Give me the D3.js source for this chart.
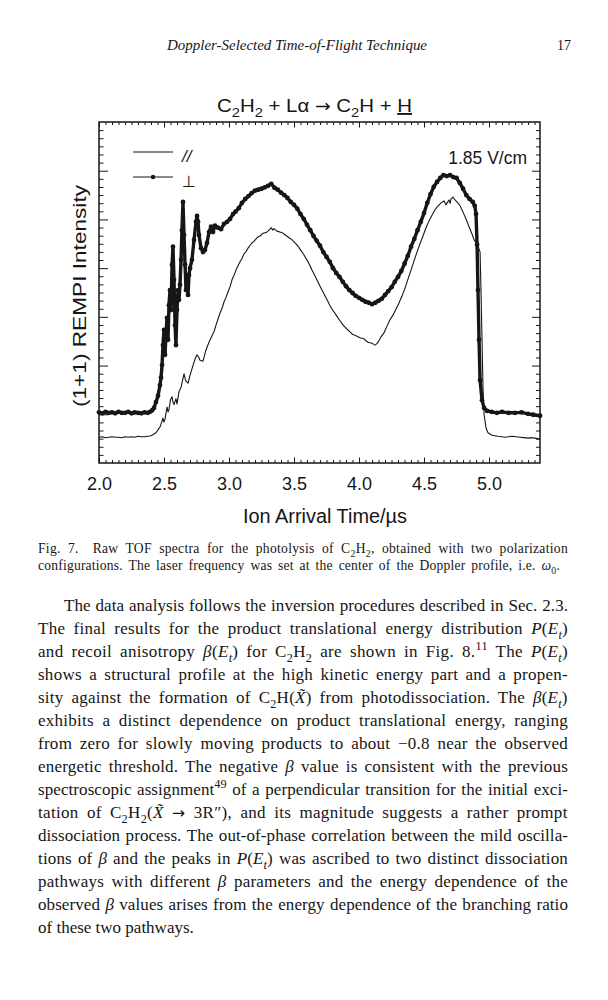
<!DOCTYPE html>
<html>
<head>
<meta charset="utf-8">
<script src="https://cdn.jsdelivr.net/npm/d3@7"></script>
<style>
  html, body { margin: 0; padding: 0; background: #fff; }
  svg { display: block; }
</style>
</head>
<body>
<svg id="page"></svg>
<script>
// ---- data (time in µs, intensity in arb. units) ----
const xMajorTicks = [2.0, 2.5, 3.0, 3.5, 4.0, 4.5, 5.0];
const xTickLabels = ["2.0", "2.5", "3.0", "3.5", "4.0", "4.5", "5.0"];
const seriesNames = ["//", "\u22A5"];
const fieldLabel = "1.85 V/cm";

// "//" polarization, thin trace
const parallel = [
  [2.000,0.53],[2.025,0.54],[2.050,0.52],[2.075,0.53],[2.100,0.54],[2.125,0.53],[2.150,0.53],[2.175,0.52],
  [2.200,0.54],[2.225,0.53],[2.250,0.54],[2.275,0.53],[2.300,0.55],[2.325,0.54],[2.350,0.54],[2.375,0.55],
  [2.400,0.56],[2.415,0.58],[2.438,0.62],[2.454,0.68],[2.469,0.74],[2.485,0.86],[2.492,0.92],[2.500,0.84],
  [2.508,0.90],[2.515,1.02],[2.523,1.15],[2.531,1.05],[2.538,1.09],[2.550,1.30],[2.562,1.36],[2.569,1.25],
  [2.577,1.20],[2.592,1.32],[2.600,1.21],[2.615,1.46],[2.631,1.55],[2.638,1.64],[2.654,1.83],[2.662,1.74],
  [2.669,1.68],[2.685,1.64],[2.700,1.80],[2.708,1.87],[2.731,2.07],[2.746,2.18],[2.754,2.22],[2.769,2.16],
  [2.777,2.11],[2.800,2.09],[2.823,2.32],[2.846,2.48],[2.869,2.61],[2.885,2.70],[2.900,2.83],[2.915,2.95],
  [2.931,3.08],[2.946,3.17],[2.962,3.31],[2.977,3.40],[2.992,3.51],[3.008,3.62],[3.023,3.76],[3.038,3.85],
  [3.054,3.96],[3.069,4.05],[3.085,4.13],[3.100,4.20],[3.115,4.29],[3.131,4.34],[3.146,4.41],[3.162,4.47],
  [3.177,4.52],[3.192,4.55],[3.208,4.60],[3.223,4.64],[3.238,4.66],[3.254,4.70],[3.269,4.72],[3.285,4.73],
  [3.300,4.76],[3.315,4.80],[3.323,4.83],[3.338,4.78],[3.346,4.81],[3.369,4.76],[3.392,4.74],[3.408,4.73],
  [3.423,4.70],[3.438,4.67],[3.454,4.64],[3.470,4.61],[3.485,4.58],[3.500,4.54],[3.515,4.50],[3.531,4.45],
  [3.546,4.39],[3.562,4.33],[3.577,4.27],[3.592,4.20],[3.608,4.13],[3.623,4.05],[3.638,3.96],[3.654,3.88],
  [3.669,3.80],[3.685,3.71],[3.700,3.63],[3.715,3.55],[3.731,3.47],[3.746,3.39],[3.762,3.31],[3.777,3.23],
  [3.792,3.16],[3.808,3.10],[3.823,3.04],[3.838,2.98],[3.854,2.92],[3.869,2.86],[3.885,2.81],[3.900,2.77],
  [3.915,2.73],[3.931,2.69],[3.946,2.65],[3.962,2.63],[3.977,2.61],[3.992,2.59],[4.008,2.57],[4.023,2.56],
  [4.038,2.55],[4.054,2.51],[4.069,2.48],[4.085,2.47],[4.100,2.46],[4.115,2.43],[4.123,2.42],[4.138,2.45],
  [4.146,2.48],[4.162,2.55],[4.169,2.59],[4.192,2.67],[4.215,2.81],[4.238,2.94],[4.262,3.04],[4.285,3.16],
  [4.308,3.29],[4.331,3.43],[4.354,3.59],[4.377,3.78],[4.400,3.96],[4.423,4.15],[4.446,4.33],[4.469,4.50],
  [4.492,4.66],[4.515,4.83],[4.538,4.97],[4.562,5.09],[4.585,5.20],[4.608,5.28],[4.631,5.34],[4.654,5.38],
  [4.669,5.30],[4.677,5.34],[4.692,5.40],[4.700,5.33],[4.708,5.42],[4.723,5.46],[4.738,5.40],[4.754,5.36],
  [4.777,5.28],[4.800,5.15],[4.823,5.01],[4.846,4.85],[4.869,4.70],[4.885,4.58],[4.900,4.52],[4.915,4.46],
  [4.931,4.33],[4.938,3.55],[4.946,2.53],[4.954,1.50],[4.962,0.99],[4.977,0.72],[4.992,0.62],[5.023,0.57],
  [5.046,0.56],[5.069,0.55],[5.100,0.54],[5.123,0.53],[5.150,0.54],[5.177,0.55],[5.208,0.54],[5.238,0.53],
  [5.270,0.52],[5.300,0.51],[5.330,0.52],[5.354,0.51],[5.392,0.49]
];

// perpendicular polarization, dotted (thick) trace
const perpendicular = [
  [2.000,1.04],[2.025,1.02],[2.050,1.05],[2.075,1.03],[2.100,1.04],[2.125,1.02],[2.150,1.05],[2.175,1.03],
  [2.200,1.03],[2.225,1.05],[2.250,1.02],[2.275,1.04],[2.300,1.03],[2.325,1.02],[2.350,1.04],[2.375,1.03],
  [2.392,1.05],[2.408,1.08],[2.423,1.13],[2.438,1.25],[2.454,1.38],[2.469,1.60],[2.477,1.75],[2.485,2.01],
  [2.492,2.42],[2.500,2.73],[2.508,2.22],[2.515,2.63],[2.523,2.98],[2.531,2.53],[2.538,3.24],[2.546,3.55],
  [2.554,3.14],[2.562,4.07],[2.569,4.44],[2.577,3.76],[2.585,2.83],[2.592,2.42],[2.600,3.14],[2.608,3.55],
  [2.615,3.35],[2.623,3.66],[2.631,4.17],[2.638,4.78],[2.646,5.36],[2.654,4.68],[2.662,4.07],[2.669,3.55],
  [2.677,3.76],[2.685,3.45],[2.692,3.86],[2.700,4.00],[2.715,4.17],[2.731,4.58],[2.746,4.95],[2.754,5.07],
  [2.762,4.95],[2.769,4.68],[2.785,4.41],[2.800,4.33],[2.815,4.37],[2.831,4.52],[2.846,4.74],[2.862,4.85],
  [2.877,4.74],[2.892,4.87],[2.915,4.83],[2.938,4.80],[2.962,4.91],[2.985,4.95],[3.008,5.01],[3.031,5.11],
  [3.050,5.16],[3.075,5.23],[3.100,5.34],[3.125,5.42],[3.150,5.48],[3.175,5.54],[3.200,5.59],[3.225,5.61],
  [3.250,5.63],[3.275,5.66],[3.300,5.69],[3.325,5.73],[3.350,5.65],[3.375,5.61],[3.400,5.55],[3.425,5.50],
  [3.450,5.44],[3.475,5.36],[3.500,5.30],[3.525,5.22],[3.550,5.11],[3.575,5.01],[3.600,4.89],[3.625,4.78],
  [3.650,4.66],[3.675,4.56],[3.700,4.46],[3.725,4.33],[3.750,4.23],[3.775,4.13],[3.800,4.00],[3.825,3.90],
  [3.850,3.82],[3.875,3.72],[3.900,3.63],[3.925,3.55],[3.950,3.49],[3.975,3.43],[4.000,3.39],[4.025,3.35],
  [4.050,3.31],[4.075,3.29],[4.100,3.26],[4.125,3.29],[4.150,3.33],[4.175,3.37],[4.200,3.45],[4.225,3.53],
  [4.250,3.61],[4.275,3.72],[4.300,3.82],[4.325,3.94],[4.350,4.09],[4.375,4.25],[4.400,4.44],[4.425,4.60],
  [4.450,4.78],[4.475,4.95],[4.500,5.13],[4.525,5.34],[4.550,5.52],[4.575,5.67],[4.600,5.77],[4.625,5.85],
  [4.650,5.91],[4.675,5.89],[4.700,5.91],[4.725,5.87],[4.750,5.85],[4.775,5.75],[4.800,5.63],[4.825,5.50],
  [4.850,5.42],[4.875,5.36],[4.890,5.28],[4.900,5.11],[4.908,4.48],[4.915,3.55],[4.923,2.53],[4.931,1.70],
  [4.946,1.29],[4.962,1.13],[4.985,1.07],[5.020,1.05],[5.060,1.03],[5.100,1.05],[5.150,1.03],[5.200,1.03],
  [5.250,1.04],[5.300,1.01],[5.340,0.99],[5.392,0.97]
];

// ---- page text ----
const runningHead = "Doppler-Selected Time-of-Flight Technique";
const pageNumber = "17";
const chartTitle = "C{_:2}H{_:2} + L\u03B1 {s:\u2192} C{_:2}H + {u:H}";
const yAxisTitle = "(1+1) REMPI Intensity";
const xAxisTitle = "Ion Arrival Time/\u00B5s";
const captionLines = [
  "Fig. 7.\u2003Raw TOF spectra for the photolysis of C{_:2}H{_:2}, obtained with two polarization",
  "configurations. The laser frequency was set at the center of the Doppler profile, i.e. {i:\u03C9}{_:0}."
];
const bodyLines = [
  "The data analysis follows the inversion procedures described in Sec. 2.3.",
  "The final results for the product translational energy distribution {i:P}({i:E}{_i:t})",
  "and recoil anisotropy {i:\u03B2}({i:E}{_i:t}) for C{_:2}H{_:2} are shown in Fig. 8.{^:11} The {i:P}({i:E}{_i:t})",
  "shows a structural profile at the high kinetic energy part and a propen-",
  "sity against the formation of C{_:2}H({i:X\u0303}) from photodissociation. The {i:\u03B2}({i:E}{_i:t})",
  "exhibits a distinct dependence on product translational energy, ranging",
  "from zero for slowly moving products to about \u22120.8 near the observed",
  "energetic threshold. The negative {i:\u03B2} value is consistent with the previous",
  "spectroscopic assignment{^:49} of a perpendicular transition for the initial exci-",
  "tation of C{_:2}H{_:2}({i:X\u0303} {s:\u2192} 3R\u2033), and its magnitude suggests a rather prompt",
  "dissociation process. The out-of-phase correlation between the mild oscilla-",
  "tions of {i:\u03B2} and the peaks in {i:P}({i:E}{_i:t}) was ascribed to two distinct dissociation",
  "pathways with different {i:\u03B2} parameters and the energy dependence of the",
  "observed {i:\u03B2} values arises from the energy dependence of the branching ratio",
  "of these two pathways."
];

const SANS = '"Liberation Sans", Arial, Helvetica, sans-serif';
const SERIF = '"Liberation Serif", "Times New Roman", serif';
const INK = "#161616";

// tiny markup: {i:..} italic, {_:..} sub, {_i:..} italic sub, {^:..} sup, {u:..} underline, {s:..} symbol font
function parseRich(str) {
  const out = [];
  const re = /\{(i|_|_i|\^|u|s):([^}]*)\}/g;
  let last = 0, m;
  while ((m = re.exec(str))) {
    if (m.index > last) out.push([str.slice(last, m.index), ""]);
    out.push([m[2], m[1]]);
    last = re.lastIndex;
  }
  if (last < str.length) out.push([str.slice(last), ""]);
  return out;
}

function addRich(parent, str, x, y, size) {
  const text = parent.append("text").attr("x", x).attr("y", y).attr("font-size", size);
  let shift = 0;
  parseRich(str).forEach(([s, k]) => {
    const ts = text.append("tspan").text(s);
    let target = 0;
    if (k === "_" || k === "_i") { target = size * 0.28; ts.attr("font-size", size * 0.72); }
    if (k === "^") { target = -size * 0.4; ts.attr("font-size", size * 0.72); }
    if (k === "i" || k === "_i") ts.attr("font-style", "italic");
    if (k === "u") ts.attr("text-decoration", "underline");
    if (k === "s") ts.attr("font-family", '"DejaVu Sans", sans-serif').attr("font-size", size * 0.92);
    if (target !== shift) ts.attr("dy", target - shift);
    shift = target;
  });
  return text;
}

// fill the measure: part of the slack goes between letters, the rest between words
function justify(text, width) {
  const node = text.node();
  const natural = node.getComputedTextLength();
  const content = node.textContent;
  const gaps = (content.match(/ /g) || []).length;
  if (natural > width || gaps === 0) {
    text.attr("textLength", width).attr("lengthAdjust", "spacing");
    return;
  }
  const extra = width - natural;
  const letters = content.length - 1;
  const ls = Math.min(0.35, (extra * 0.35) / letters);
  text.attr("letter-spacing", ls);
  text.attr("word-spacing", (extra - ls * content.length) / gaps);
}

class tofFigure {
  box = { left: 99, top: 122, right: 540, bottom: 463 }

  constructor(svg, width = 608, height = 1000) {
    this.svg = svg;
    this.width = width;
    this.height = height;
  }

  initialize() {
    this.svg = d3.select(this.svg)
      .attr("width", this.width)
      .attr("height", this.height);
    this.svg.append("rect").attr("width", this.width).attr("height", this.height).attr("fill", "#fff");

    this.page = this.svg.append("g").attr("fill", INK);
    this.plot = this.svg.append("g");

    this.xScale = d3.scaleLinear().domain([2.0, 5.392]).range([this.box.left, this.box.right]);
    this.yScale = d3.scaleLinear().domain([0, 7]).range([this.box.bottom, this.box.top]);
  }

  drawAxes() {
    const b = this.box;
    const xMinor = d3.range(2.0, 5.39, 0.05).filter(v => Math.abs(v * 2 - Math.round(v * 2)) > 1e-6);
    const yMinor = d3.range(0, 7, 1 / 6).filter(v => Math.abs(v - Math.round(v)) > 1e-6);
    const yMajor = d3.range(1, 7);

    const put = (axis, tf) => {
      const g = this.plot.append("g").attr("transform", tf).call(axis);
      g.select(".domain").remove();
      g.selectAll("line").attr("stroke", INK).attr("stroke-width", 1);
      return g;
    };

    put(d3.axisBottom(this.xScale).tickValues(xMinor).tickSize(-3).tickFormat(""), `translate(0,${b.bottom})`);
    put(d3.axisTop(this.xScale).tickValues(xMinor).tickSize(-3).tickFormat(""), `translate(0,${b.top})`);
    put(d3.axisTop(this.xScale).tickValues(xMajorTicks).tickSize(-5.5).tickFormat(""), `translate(0,${b.top})`);
    const bottomMajor = put(
      d3.axisBottom(this.xScale).tickValues(xMajorTicks).tickSizeInner(-5.5).tickSizeOuter(0)
        .tickPadding(14).tickFormat((d, i) => xTickLabels[i]),
      `translate(0,${b.bottom})`);
    bottomMajor.selectAll("text")
      .attr("font-family", SANS).attr("font-size", 18).attr("fill", INK);

    put(d3.axisLeft(this.yScale).tickValues(yMinor).tickSize(-4.5).tickFormat(""), `translate(${b.left},0)`);
    put(d3.axisLeft(this.yScale).tickValues(yMajor).tickSize(-9).tickFormat(""), `translate(${b.left},0)`);
    put(d3.axisRight(this.yScale).tickValues(yMinor).tickSize(-4).tickFormat(""), `translate(${b.right},0)`);
    put(d3.axisRight(this.yScale).tickValues(yMajor).tickSize(-8).tickFormat(""), `translate(${b.right},0)`);

    this.plot.append("rect")
      .attr("x", b.left).attr("y", b.top)
      .attr("width", b.right - b.left).attr("height", b.bottom - b.top)
      .attr("fill", "none").attr("stroke", INK).attr("stroke-width", 1.5);
  }

  drawCurves() {
    const line = d3.line().x(d => this.xScale(d[0])).y(d => this.yScale(d[1]));

    this.plot.append("path")
      .datum(parallel)
      .attr("d", line)
      .attr("fill", "none")
      .attr("stroke", INK)
      .attr("stroke-width", 1.1)
      .attr("stroke-linejoin", "round");

    this.plot.append("path")
      .datum(perpendicular)
      .attr("d", line)
      .attr("fill", "none")
      .attr("stroke", INK)
      .attr("stroke-width", 3.4)
      .attr("stroke-linejoin", "round");

    this.plot.append("g").selectAll("circle")
      .data(perpendicular)
      .enter()
      .append("circle")
      .attr("cx", d => this.xScale(d[0]))
      .attr("cy", d => this.yScale(d[1]))
      .attr("r", 2.4)
      .attr("fill", INK);
  }

  drawLegend() {
    const legend = this.plot.append("g").attr("fill", INK).attr("font-family", SANS);
    const rows = [152, 177];
    seriesNames.forEach((name, i) => {
      legend.append("line")
        .attr("x1", 133).attr("x2", 173).attr("y1", rows[i]).attr("y2", rows[i])
        .attr("stroke", INK).attr("stroke-width", 1.1);
      if (i === 1) legend.append("circle").attr("cx", 153).attr("cy", rows[i]).attr("r", 2.2);
      legend.append("text")
        .attr("x", 182).attr("y", rows[i] + 10)
        .attr("font-size", i === 0 ? 17 : 16)
        .attr("font-style", i === 0 ? "italic" : "normal")
        .attr("font-family", i === 0 ? SANS : '"DejaVu Sans", sans-serif')
        .text(name);
    });

    legend.append("text")
      .attr("x", 527).attr("y", 164)
      .attr("text-anchor", "end")
      .attr("font-size", 17.5)
      .text(fieldLabel);
  }

  drawText() {
    const p = this.page;

    p.append("text")
      .attr("x", 167).attr("y", 50)
      .attr("font-family", SERIF).attr("font-style", "italic").attr("font-size", 14)
      .attr("textLength", 260).attr("lengthAdjust", "spacingAndGlyphs")
      .text(runningHead);
    p.append("text")
      .attr("x", 571).attr("y", 50).attr("text-anchor", "end")
      .attr("font-family", SERIF).attr("font-size", 14)
      .text(pageNumber);

    addRich(p, chartTitle, 314.5, 112, 19)
      .attr("font-family", SANS).attr("text-anchor", "middle")
      .attr("textLength", 195).attr("lengthAdjust", "spacingAndGlyphs");

    p.append("text")
      .attr("transform", "translate(86,296) rotate(-90)")
      .attr("text-anchor", "middle")
      .attr("font-family", SANS).attr("font-size", 19)
      .attr("textLength", 222).attr("lengthAdjust", "spacingAndGlyphs")
      .text(yAxisTitle);

    p.append("text")
      .attr("x", 325).attr("y", 523)
      .attr("text-anchor", "middle")
      .attr("font-family", SANS).attr("font-size", 19.5)
      .attr("textLength", 164).attr("lengthAdjust", "spacingAndGlyphs")
      .text(xAxisTitle);

    const cap = p.append("g").attr("font-family", SERIF);
    captionLines.forEach((s, i) => {
      const t = addRich(cap, s, 38, 553 + i * 17, 13.6);
      justify(t, i === 0 ? 530 : 522);
    });

    const body = p.append("g").attr("font-family", SERIF);
    bodyLines.forEach((s, i) => {
      const x0 = i === 0 ? 64 : 38;
      const t = addRich(body, s, x0, 611 + i * 23, 17);
      if (i < bodyLines.length - 1) justify(t, 568 - x0);
    });
  }
}

const fig = new tofFigure(document.getElementById("page"));
fig.initialize();
fig.drawAxes();
fig.drawCurves();
fig.drawLegend();
fig.drawText();
</script>
</body>
</html>
